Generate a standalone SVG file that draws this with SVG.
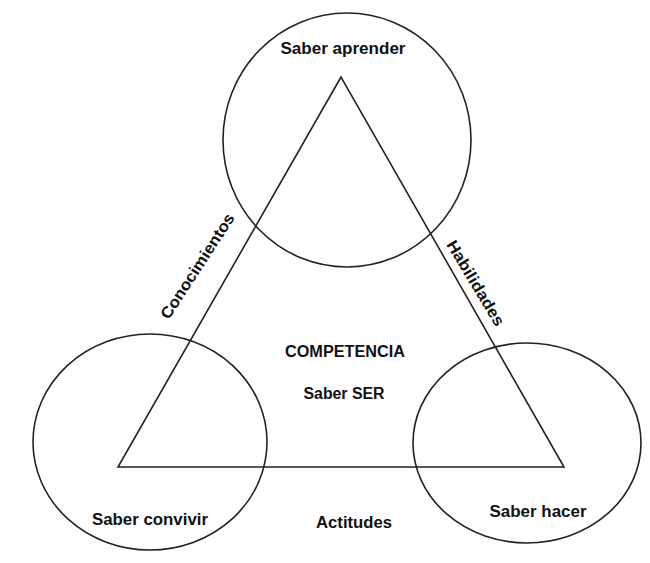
<svg xmlns="http://www.w3.org/2000/svg" width="650" height="563" viewBox="0 0 650 563">
<style>
.s{fill:none;stroke:#222;stroke-width:1.6}
.t{font-family:"Liberation Sans",Arial,sans-serif;font-weight:bold;font-size:16px;fill:#111;text-anchor:middle}
</style>
<rect width="650" height="563" fill="#fff"/>
<g id="connectors">
<polygon class="s" points="341,77 118,467 564,467"/>
</g>
<g id="saber-aprender">
<ellipse class="s" cx="347" cy="140" rx="124" ry="127"/>
<text class="t" x="343" y="54" textLength="125" lengthAdjust="spacingAndGlyphs">Saber aprender</text>
</g>
<g id="saber-convivir">
<ellipse class="s" cx="150" cy="442" rx="117" ry="108"/>
<text class="t" x="150" y="525" textLength="116" lengthAdjust="spacingAndGlyphs">Saber convivir</text>
</g>
<g id="saber-hacer">
<ellipse class="s" cx="527" cy="443" rx="114" ry="100"/>
<text class="t" x="538" y="517" textLength="97" lengthAdjust="spacingAndGlyphs">Saber hacer</text>
</g>
<g id="competencia">
<text class="t" x="345" y="357" textLength="120" lengthAdjust="spacingAndGlyphs">COMPETENCIA</text>
<text class="t" x="344" y="399" textLength="81" lengthAdjust="spacingAndGlyphs">Saber SER</text>
</g>
<g id="labels">
<text class="t" transform="translate(202,269) rotate(-57)" textLength="122" lengthAdjust="spacingAndGlyphs">Conocimientos</text>
<text class="t" transform="translate(471,286) rotate(59)" textLength="97" lengthAdjust="spacingAndGlyphs">Habilidades</text>
<text class="t" x="354" y="528" textLength="76" lengthAdjust="spacingAndGlyphs">Actitudes</text>
</g>
</svg>
